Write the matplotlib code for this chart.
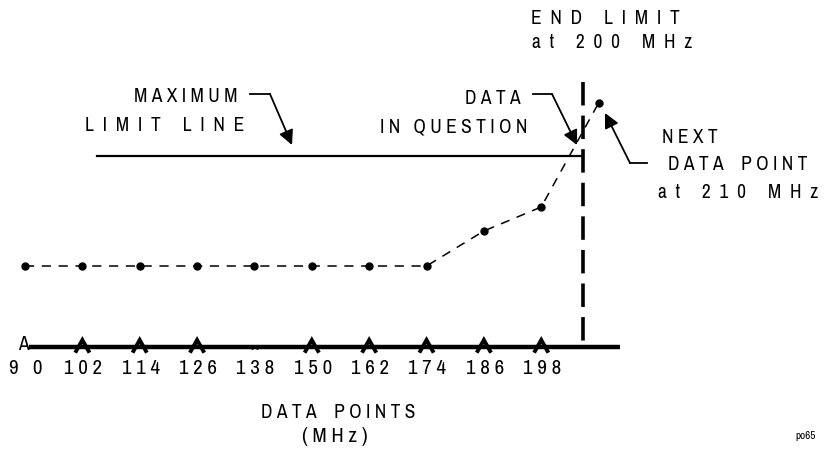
import matplotlib.pyplot as plt

plt.rcParams['font.family'] = ['Archivo Narrow', 'DejaVu Sans']
plt.rcParams['font.stretch'] = 'condensed'

# data (frequency in MHz, level in arbitrary display units above the baseline)
freqs = [90, 102, 114, 126, 138, 150, 162, 174, 186, 198, 210]
levels = [81, 81, 81, 81, 81, 81, 81, 81, 116, 140, 244]
tick_freqs = [90, 102, 114, 126, 138, 150, 162, 174, 186, 198]
tick_labels = ["9   0", "1 0 2", "1 1 4", "1 2 6", "1 3 8", "1 5 0", "1 6 2", "1 7 4", "1 8 6", "1 9 8"]
limit_level = 191
end_limit = 206.7  # drawn position of the 200 MHz end limit

# callout texts: (words, left px, right px, centre y px)
callouts = [
    (["MAXIMUM"], 133, 238, 97),
    (["LIMIT", "LINE"], 90, 240, 126),
    (["DATA"], 470, 515, 98),
    (["IN", "QUESTION"], 380, 527, 127),
    (["END", "LIMIT"], 538, 673, 19),
    (["at", "200", "MHz"], 537, 687, 43),
    (["NEXT"], 662, 718, 138),
    (["DATA", "POINT"], 662, 813, 165),
    (["at", "210", "MHz"], 662, 815, 192),
    (["DATA", "POINTS"], 252, 425, 413),
    (["(MHz)"], 298, 372, 436),
]

W, H = 824, 451
fig = plt.figure(figsize=(W / 100, H / 100), dpi=100)
ax = fig.add_axes([0, 0, 1, 1])
ax.set_xlim(90 - 25 / 4.78, 90 + 799 / 4.78)
ax.set_ylim(-104, 347)
ax.axis('off')
renderer = fig.canvas.get_renderer()


def P(px, py):
    # pixel position (from top left) -> figure fraction
    return px / W, 1 - py / H


def spaced_label(words, left, right, py, size=14):
    # letter-spaced text: pick the spacing that best fills the width
    best = None
    for k in range(1, 4):
        for m in (2 * k + 1, 2 * k + 2):
            s = (" " * m).join((" " * k).join(w) for w in words)
            t = fig.text(0, 0, s, fontsize=size)
            err = abs(t.get_window_extent(renderer).width - (right - left))
            t.remove()
            if best is None or err < best[0]:
                best = (err, s)
    x, y = P((left + right) / 2, py)
    fig.text(x, y, best[1], ha='center', va='center', fontsize=size, color='black')


# baseline and ticks
ax.plot([90.8, 214.5], [0, 0], color='black', lw=3.2, solid_capstyle='butt')
for f in tick_freqs[1:]:
    if f == 138:
        ax.plot([f - 0.6, f + 0.6], [-1, -1], ls='none', marker='.', ms=2, color='black')
        continue
    ax.plot([f - 1.3, f, f + 1.3], [-4, 7, -4], color='black', lw=2.8,
            solid_joinstyle='miter')
ax.text(89.6, 2, "A", ha='center', va='center', fontsize=14)
for f, t in zip(tick_freqs, tick_labels):
    ax.text(f + 0.2, -22, t, ha='center', va='center', fontsize=15)

# measured trace
ax.plot(freqs, levels, color='black', lw=1.1, ls=(0, (6, 5)))
ax.plot(freqs, levels, ls='none', marker='o', ms=5, color='black')

# maximum limit line and end limit
ax.plot([105.1, end_limit], [limit_level, limit_level], color='black', lw=1.6)
ax.plot([end_limit, end_limit], [265, 0], color='black', lw=2.6,
        ls=(0, (6.5, 2.8)), dash_capstyle='butt')

# annotation leaders
arrow = dict(arrowstyle='-|>', lw=1.3, color='black', mutation_scale=22,
             shrinkA=0, shrinkB=0)
for (hx0, hx1, hy), tip in [((250, 270, 94), (292, 145)),
                            ((533, 552, 94), (577, 145)),
                            ((647, 630, 163), (605, 113))]:
    fig.add_artist(plt.Line2D([hx0 / W, hx1 / W], [1 - hy / H] * 2,
                              color='black', lw=1.3))
    ax.annotate('', xy=P(*tip), xycoords='figure fraction',
                xytext=P(hx1, hy), textcoords='figure fraction', arrowprops=arrow)

for words, left, right, py in callouts:
    spaced_label(words, left, right, py, size=15 if words == ["(MHz)"] else 14)

x, y = P(795, 436)
fig.text(x, y, "po65", ha='left', va='center', fontsize=8, fontweight='bold')

fig.savefig("out.png", dpi=100)
